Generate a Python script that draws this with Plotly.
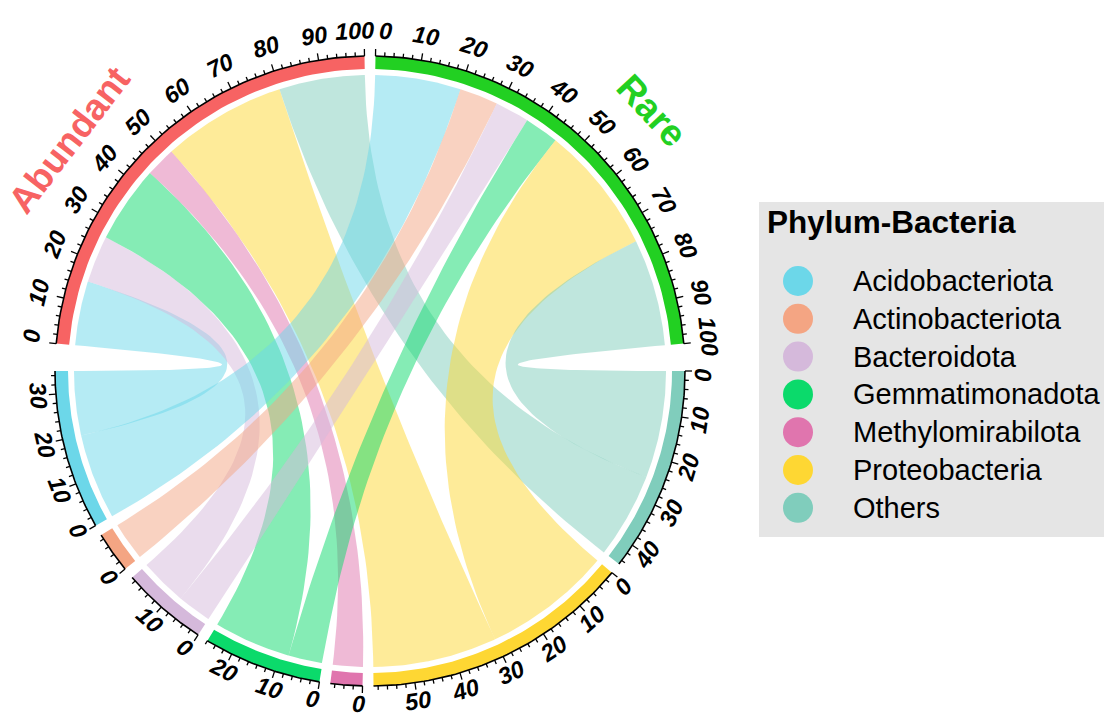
import numpy as np
import plotly.graph_objects as go

# ---------------- data ----------------
groups = ["Abundant", "Rare"]
phyla = ["Acidobacteriota", "Actinobacteriota", "Bacteroidota", "Gemmatimonadota",
         "Methylomirabilota", "Proteobacteria", "Others"]
abundant_values = [15, 0, 11, 18, 7, 29, 20]
rare_values = [20, 9, 8, 8, 0, 30, 25]
group_colors = ["#F76363", "#22D022"]
phylum_colors = ["#6CD7E9", "#F4A583", "#D5B9DB", "#0BDA6B", "#E075AE", "#FED733", "#80CDBC"]
legend_title = "Phylum-Bacteria"
major_step = 10
minor_step = 2

# ---------------- geometry ----------------
W, H = 1104, 717
CX, CY = 370, 371
R_OUT, R_IN, R_LINK = 315, 302, 296
R_LAB_TOP, R_LAB_BOT = 340, 333
START = 175.0
SMALL_GAP, BIG_GAP = 2.0, 5.0
FONT = "Arial, Liberation Sans, sans-serif"
TICK_FONT = 23.5

values = {"Abundant": abundant_values, "Rare": rare_values}

# sector order clockwise: groups then phyla reversed
sectors = groups + phyla[::-1]
totals = {"Abundant": sum(abundant_values), "Rare": sum(rare_values)}
for i, p in enumerate(phyla):
    totals[p] = abundant_values[i] + rare_values[i]
colors = {g: c for g, c in zip(groups, group_colors)}
colors.update({p: c for p, c in zip(phyla, phylum_colors)})

gaps = []
for s in sectors:
    if s == "Rare" or s == sectors[-1]:
        gaps.append(BIG_GAP)
    else:
        gaps.append(SMALL_GAP)
unit = (360.0 - sum(gaps)) / sum(totals[s] for s in sectors)

sec_start = {}
cur = START
for s, g in zip(sectors, gaps):
    sec_start[s] = cur
    cur = cur - totals[s] * unit - g


def ang(sector, pos):
    return sec_start[sector] - pos * unit


def pt(r, th):
    t = np.radians(th)
    return CX + r * np.cos(t), CY - r * np.sin(t)


def arc(r, t0, t1, n=60):
    ts = np.linspace(t0, t1, n)
    x, y = pt(r, ts)
    return list(x), list(y)


def bez(p0, p2, n=60):
    t = np.linspace(0, 1, n)
    x = (1 - t) ** 2 * p0[0] + 2 * (1 - t) * t * CX + t ** 2 * p2[0]
    y = (1 - t) ** 2 * p0[1] + 2 * (1 - t) * t * CY + t ** 2 * p2[1]
    return list(x), list(y)


def rgba(hexc, a):
    h = hexc.lstrip("#")
    return "rgba(%d,%d,%d,%.2f)" % (int(h[0:2], 16), int(h[2:4], 16), int(h[4:6], 16), a)


fig = go.Figure()

# ---------------- link positions ----------------
grp_pos = {}
for g in groups:
    c = 0.0
    for i, p in enumerate(phyla):
        v = values[g][i]
        grp_pos[(g, p)] = (c, c + v)
        c += v
phy_pos = {}
for i, p in enumerate(phyla):
    c = 0.0
    for g in ["Rare", "Abundant"]:
        v = values[g][i]
        phy_pos[(g, p)] = (c, c + v)
        c += v

for g in groups:
    for i, p in enumerate(phyla):
        if values[g][i] <= 0:
            continue
        a0, a1 = grp_pos[(g, p)]
        b0, b1 = phy_pos[(g, p)]
        ta0, ta1 = ang(g, a0), ang(g, a1)
        tb0, tb1 = ang(p, b0), ang(p, b1)
        xs, ys = arc(R_LINK, ta0, ta1)
        bx, by = bez(pt(R_LINK, ta1), pt(R_LINK, tb0))
        xs += bx; ys += by
        ax_, ay_ = arc(R_LINK, tb0, tb1)
        xs += ax_; ys += ay_
        bx, by = bez(pt(R_LINK, tb1), pt(R_LINK, ta0))
        xs += bx; ys += by
        fig.add_trace(go.Scatter(x=xs, y=ys, mode="lines", fill="toself",
                                 fillcolor=rgba(colors[p], 0.5), line=dict(width=0),
                                 hoverinfo="skip"))

# ---------------- sector rings ----------------
for s in sectors:
    t0, t1 = ang(s, 0), ang(s, totals[s])
    xo, yo = arc(R_OUT, t0, t1)
    xi, yi = arc(R_IN, t1, t0)
    fig.add_trace(go.Scatter(x=xo + xi + [xo[0]], y=yo + yi + [yo[0]], mode="lines",
                             fill="toself", fillcolor=colors[s], line=dict(width=0),
                             hoverinfo="skip"))

# ---------------- axes, ticks, labels ----------------
axx, axy, tkx, tky = [], [], [], []
annotations = []
for s in sectors:
    tot = totals[s]
    t0, t1 = ang(s, 0), ang(s, tot)
    x, y = arc(R_OUT, t0, t1)
    axx += x + [None]; axy += y + [None]
    k = 0
    while k * minor_step <= tot + 1e-9:
        v = k * minor_step
        th = ang(s, v)
        L = 7 if v % major_step == 0 else 4
        p1 = pt(R_OUT, th); p2 = pt(R_OUT + L, th)
        tkx += [p1[0], p2[0], None]; tky += [p1[1], p2[1], None]
        k += 1
    majors = list(range(0, int(tot) + 1, major_step))
    for v in majors:
        th = ang(s, v)
        txt = str(v)
        sn = np.sin(np.radians(th))
        shift_px = 5 + 5 * sn if sn > 0 else 4
        if v == 0:
            th -= np.degrees(shift_px / R_LAB_TOP)
        elif v == tot:
            th += np.degrees(shift_px / R_LAB_TOP)
        thn = ((th + 180) % 360) - 180
        if thn >= 0:
            rot = 90 - thn
            rl = R_LAB_TOP
        else:
            rot = -(thn + 90)
            rl = R_LAB_BOT
        lx, ly = pt(rl, th)
        annotations.append(dict(x=lx, y=ly, text=txt, showarrow=False,
                                textangle=rot, xanchor="center", yanchor="middle",
                                font=dict(family=FONT, size=TICK_FONT, color="black",
                                          weight="bold", style="italic")))

fig.add_trace(go.Scatter(x=axx, y=axy, mode="lines", line=dict(color="black", width=1.6),
                         hoverinfo="skip"))
fig.add_trace(go.Scatter(x=tkx, y=tky, mode="lines", line=dict(color="black", width=1.3),
                         hoverinfo="skip"))

# sector names
name_pos = {"Abundant": (142.4, 379), "Rare": (42.8, 384)}
for g in groups:
    th, r = name_pos[g]
    lx, ly = pt(r, th)
    annotations.append(dict(x=lx, y=ly, text=g, showarrow=False, textangle=90 - th,
                            xanchor="center", yanchor="middle",
                            font=dict(family=FONT, size=37, color=colors[g], weight="bold")))

# ---------------- legend ----------------
LX0, LY0, LX1, LY1 = 759, 202, 1104, 537
fig.add_shape(type="rect", x0=LX0, y0=LY0, x1=LX1, y1=LY1, fillcolor="#E5E5E5",
              line=dict(width=0), layer="below")
annotations.append(dict(x=765, y=222, text=legend_title, showarrow=False, xanchor="left",
                        yanchor="middle", font=dict(family=FONT, size=31.5, color="black",
                                                    weight="bold")))
ROW0, ROWH = 281, 37.8
ly_list = [ROW0 + ROWH * i for i in range(len(phyla))]
fig.add_trace(go.Scatter(x=[798] * len(phyla), y=ly_list, mode="markers",
                         marker=dict(size=30, color=phylum_colors, line=dict(width=0)),
                         hoverinfo="skip"))
for p, yy in zip(phyla, ly_list):
    annotations.append(dict(x=851, y=yy, text=p, showarrow=False, xanchor="left",
                            yanchor="middle", font=dict(family=FONT, size=29, color="black")))

fig.update_layout(
    width=W, height=H, margin=dict(l=0, r=0, t=0, b=0),
    paper_bgcolor="white", plot_bgcolor="white", showlegend=False,
    xaxis=dict(range=[0, W], visible=False, fixedrange=True),
    yaxis=dict(range=[H, 0], visible=False, fixedrange=True),
    annotations=annotations,
)
fig.write_html("out.html", config={"displayModeBar": False},
               post_script="document.body.style.margin='0';document.body.style.overflow='hidden';")
